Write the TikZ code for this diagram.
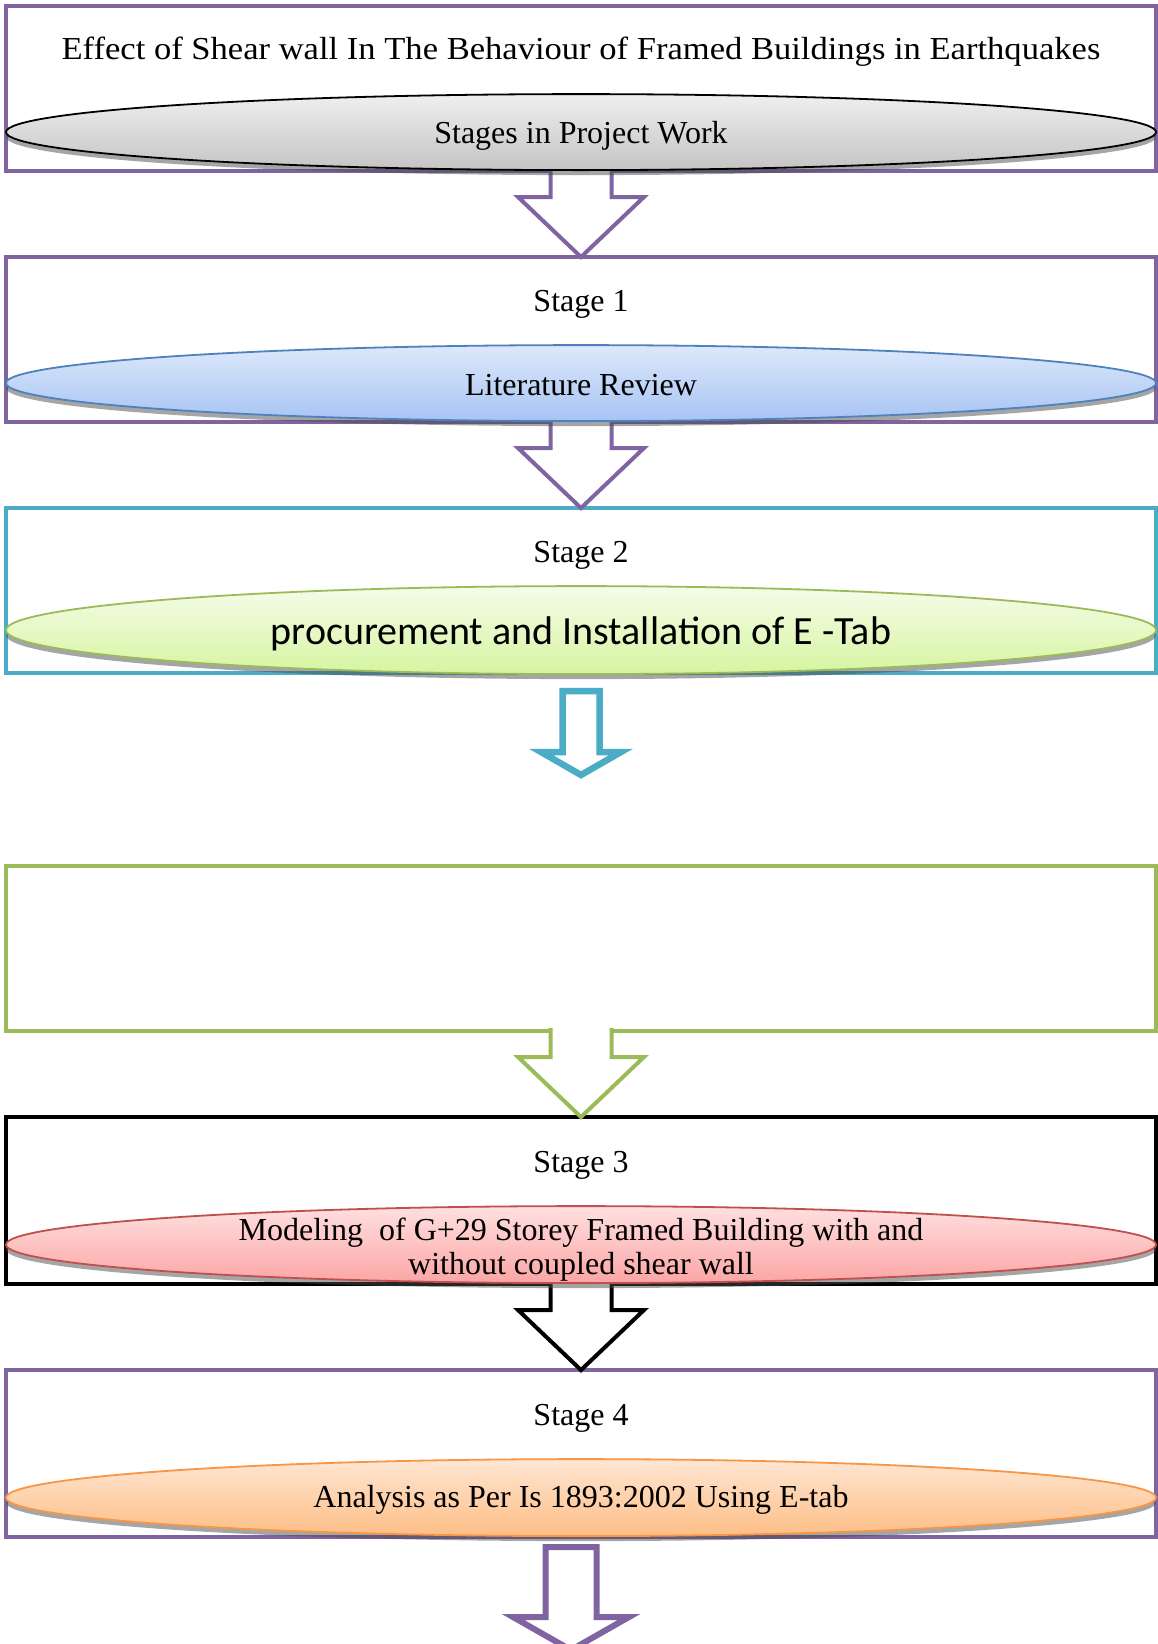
\documentclass[tikz,border=0pt]{standalone}
\usepackage{fontspec}
\setmainfont{Liberation Serif}
\newfontfamily\calibrifont{Carlito}
\newfontfamily\titlefont[FakeStretch=1.08]{Liberation Serif}
\usetikzlibrary{shapes.geometric,positioning,calc,shadows}
\definecolor{PU}{HTML}{8064A2}
\definecolor{CY}{HTML}{4BACC6}
\definecolor{GN}{HTML}{9BBB59}
\definecolor{BL}{HTML}{4F81BD}
\definecolor{RD}{HTML}{C0504D}
\definecolor{OR}{HTML}{F79646}
\definecolor{GYa}{HTML}{EFEFEF}
\definecolor{GYb}{HTML}{C4C4C4}
\definecolor{BLa}{HTML}{DDE8FB}
\definecolor{BLb}{HTML}{A7C4F3}
\definecolor{GNa}{HTML}{F5FCEA}
\definecolor{GNb}{HTML}{D6F5A0}
\definecolor{RDa}{HTML}{FFE0E0}
\definecolor{RDb}{HTML}{FCA5A5}
\definecolor{ORa}{HTML}{FFE6D3}
\definecolor{ORb}{HTML}{FDBE86}

\tikzset{
  stagebox/.style={draw, line width=4.5pt, fill=white,
    minimum width=1150pt, minimum height=165pt,
    inner sep=0pt, outer sep=0pt},
  stageoval/.style={ellipse, draw, line width=1.8pt,
    minimum width=1150pt, minimum height=76pt, inner sep=0pt,
    anchor=south,
    drop shadow={shadow xshift=0pt, shadow yshift=-5pt,
      opacity=.5, fill=black!70}},
  stagelabel/.style={font=\fontsize{32}{34}\selectfont},
  ovaltext/.style={font=\fontsize{32}{34}\selectfont, align=center},
  blockarrow/.style={line width=4pt, fill=white, line join=miter}
}

% open block arrow from one box to the next (#4 shaft, #5 head half width, #6 head length)
\newcommand{\linkarrow}[6][]{%
  \draw[blockarrow,#1] let \p1=(#2), \p2=(#3) in
    (\x1-#4,\y1+3pt) -- (\x1-#4,\y2+#6) -- (\x1-#5,\y2+#6) -- (\x1,\y2)
    -- (\x1+#5,\y2+#6) -- (\x1+#4,\y2+#6) -- (\x1+#4,\y1+3pt);}
% closed block arrow between two coordinates
\newcommand{\freearrow}[6][]{%
  \draw[blockarrow,#1] let \p1=(#2), \p2=(#3) in
    (\x1-#4,\y1) -- (\x1-#4,\y2+#6) -- (\x1-#5,\y2+#6) -- (\x1,\y2)
    -- (\x1+#5,\y2+#6) -- (\x1+#4,\y2+#6) -- (\x1+#4,\y1) -- cycle;}

\begin{document}
\begin{tikzpicture}[x=1pt,y=1pt]
  \useasboundingbox (0,0) rectangle (1157,-1644);

  % frames
  \node[stagebox, draw=PU] (box1) at (581,-88.5) {};
  \node[stagebox, draw=PU, below=86pt of box1] (box2) {};
  \node[stagebox, draw=CY, below=86pt of box2] (box3) {};
  \node[stagebox, draw=GN, below=193pt of box3] (box4) {};
  \node[stagebox, draw=black, minimum height=167pt, below=86pt of box4] (box5) {};
  \node[stagebox, draw=PU, minimum height=167pt, below=86pt of box5] (box6) {};

  % arrows
  \linkarrow[draw=PU]{box1.south}{box2.north}{30.5pt}{63pt}{60pt}
  \linkarrow[draw=PU]{box2.south}{box3.north}{30.5pt}{63pt}{60pt}
  \coordinate (a3top) at ($(box3.south)+(0,-18pt)$);
  \coordinate (a3tip) at ($(box3.south)+(0,-102pt)$);
  \freearrow[draw=CY, line width=6.5pt]{a3top}{a3tip}{18.5pt}{40pt}{23pt}
  \linkarrow[draw=GN]{box4.south}{box5.north}{30.5pt}{63pt}{60pt}
  \linkarrow[draw=black]{box5.south}{box6.north}{30.5pt}{63pt}{60pt}
  \coordinate (a6top) at ($(box6.south)+(-10pt,-10pt)$);
  \coordinate (a6tip) at ($(box6.south)+(-10pt,-113pt)$);
  \freearrow[draw=PU, line width=6pt]{a6top}{a6tip}{25.5pt}{58pt}{33pt}

  % ovals
  \node[stageoval, draw=black, top color=GYa, bottom color=GYb] (oval1) at (box1.south) {};
  \node[stageoval, draw=BL, top color=BLa, bottom color=BLb] (oval2) at (box2.south) {};
  \node[stageoval, draw=GN, minimum height=88pt, top color=GNa, bottom color=GNb] (oval3) at ($(box3.south)+(0,-2pt)$) {};
  \node[stageoval, draw=RD, minimum height=77pt, top color=RDa, bottom color=RDb] (oval5) at (box5.south) {};
  \node[stageoval, draw=OR, minimum height=77pt, top color=ORa, bottom color=ORb] (oval6) at (box6.south) {};

  % texts
  \node[stagelabel, font=\titlefont\fontsize{32}{34}\selectfont] (title) at ($(box1.north)+(0,-46pt)$)
    {Effect of Shear wall In The Behaviour of Framed Buildings in Earthquakes};
  \node[ovaltext] (txt1) at ($(oval1)+(0,-4pt)$) {Stages in Project Work};
  \node[stagelabel] (lab1) at ($(box2.north)+(0,-47pt)$) {Stage 1};
  \node[ovaltext] (txt2) at ($(oval2)+(0,-2pt)$) {Literature Review};
  \node[stagelabel] (lab2) at ($(box3.north)+(0,-47pt)$) {Stage 2};
  \node[ovaltext, font=\calibrifont\fontsize{40}{44}\selectfont] (txt3) at ($(oval3)+(0,-4pt)$)
    {procurement and Installation of E -Tab};
  \node[stagelabel] (lab3) at ($(box5.north)+(0,-48pt)$) {Stage 3};
  \node[ovaltext] (txt5) at ($(oval5)+(0,-5pt)$)
    {Modeling~ of G+29 Storey Framed Building with and\\without coupled shear wall};
  \node[stagelabel] (lab4) at ($(box6.north)+(0,-48pt)$) {Stage 4};
  \node[ovaltext] (txt6) at ($(oval6)+(0,-2pt)$) {Analysis as Per Is 1893:2002 Using E-tab};
\end{tikzpicture}
\end{document}
